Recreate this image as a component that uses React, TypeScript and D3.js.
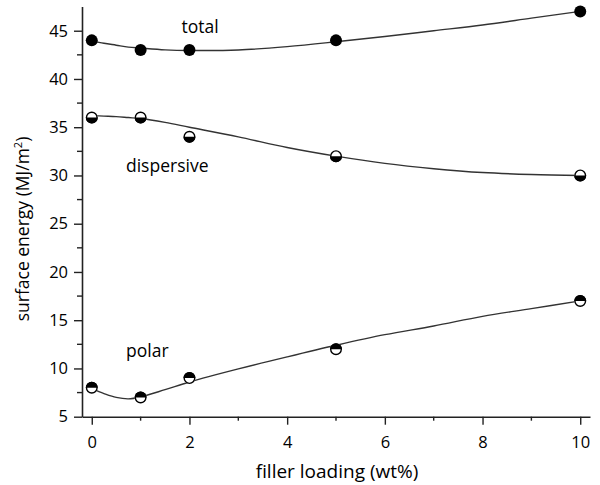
import { useRef, useEffect } from 'react';
import * as d3 from 'd3';

// measured points
const loading = [0, 1, 2, 5, 10];
const total = [44, 43, 43, 44, 47];
const dispersive = [36, 36, 34, 32, 30];
const polar = [8, 7, 9, 12, 17];

// smooth fit curves
const fitX = [0, 0.25, 0.5, 0.75, 1, 1.5, 2, 3, 4, 5, 6, 7, 8, 9, 10];
const totalFit = [43.95, 43.7, 43.5, 43.3, 43.2, 43.02, 42.95, 43.0, 43.35, 43.85, 44.4, 45.0, 45.6, 46.3, 47.0];
const dispersiveFit = [36.2, 36.15, 36.1, 36.0, 35.9, 35.5, 35.0, 34.0, 32.9, 32.0, 31.25, 30.7, 30.3, 30.1, 30.0];
const polarFit = [7.9, 7.4, 7.0, 6.85, 7.05, 7.8, 8.6, 9.95, 11.2, 12.4, 13.5, 14.4, 15.4, 16.2, 17.0];

const xMajor = [0, 2, 4, 6, 8, 10];
const xMinor = [1, 3, 5, 7, 9];
const yMajor = [5, 10, 15, 20, 25, 30, 35, 40, 45];
const yMinor = [7.5, 12.5, 17.5, 22.5, 27.5, 32.5, 37.5, 42.5];

const W = 600;
const H = 485;
const FONT = '"Open Sans", sans-serif';

export default function App() {
  const svgRef = useRef<SVGSVGElement>(null);

  useEffect(() => {
    const svg = d3.select(svgRef.current);
    svg.selectAll('*').remove();

    const x = d3.scaleLinear().domain([-0.2, 10.2]).range([82, 590]);
    const y = d3.scaleLinear().domain([5, 47.5]).range([416.7, 6.6]);
    const axisColor = '#222';

    // x axis
    const gx = svg.append('g').attr('transform', `translate(0,${y(5)})`);
    gx.call(d3.axisBottom(x).tickValues(xMajor).tickSize(8).tickSizeOuter(0).tickPadding(12));
    gx.selectAll('.minor')
      .data(xMinor)
      .enter()
      .append('line')
      .attr('class', 'minor')
      .attr('x1', (d) => x(d))
      .attr('x2', (d) => x(d))
      .attr('y1', 0)
      .attr('y2', 4);
    gx.selectAll('line').attr('stroke', axisColor).attr('stroke-width', 1.4);
    gx.select('.domain').attr('stroke', axisColor).attr('stroke-width', 1.6);
    gx.selectAll('text').attr('font-family', FONT).attr('font-size', 16.5).attr('font-weight', 500).attr('fill', '#000');

    // y axis
    const gy = svg.append('g').attr('transform', `translate(${x(-0.2)},0)`);
    gy.call(d3.axisLeft(y).tickValues(yMajor).tickSize(8).tickSizeOuter(0).tickPadding(6));
    gy.selectAll('.minor')
      .data(yMinor)
      .enter()
      .append('line')
      .attr('class', 'minor')
      .attr('x1', -5)
      .attr('x2', 0)
      .attr('y1', (d) => y(d))
      .attr('y2', (d) => y(d));
    gy.selectAll('line').attr('stroke', axisColor).attr('stroke-width', 1.4);
    gy.select('.domain').attr('stroke', axisColor).attr('stroke-width', 1.6);
    gy.selectAll('text').attr('font-family', FONT).attr('font-size', 16.5).attr('font-weight', 500).attr('fill', '#000');

    // axis titles
    svg.append('text')
      .attr('x', 337)
      .attr('y', 478)
      .attr('text-anchor', 'middle')
      .attr('font-family', FONT)
      .attr('font-size', 19)
      .attr('font-weight', 500)
      .attr('fill', '#000')
      .text('filler loading (wt%)');

    const yt = svg.append('text')
      .attr('transform', 'translate(29,229) rotate(-90)')
      .attr('text-anchor', 'middle')
      .attr('font-family', FONT)
      .attr('font-size', 17.5)
      .attr('font-weight', 500)
      .attr('fill', '#000');
    yt.append('tspan').text('surface energy (MJ/m');
    yt.append('tspan').attr('font-size', 11).attr('dy', -7).text('2');
    yt.append('tspan').attr('dy', 7).text(')');

    // fit curves
    const line = d3.line<number>()
      .x((_, i) => x(fitX[i]))
      .y((d) => y(d))
      .curve(d3.curveCatmullRom.alpha(0.5));
    [totalFit, dispersiveFit, polarFit].forEach((s) => {
      svg.append('path')
        .attr('d', line(s))
        .attr('fill', 'none')
        .attr('stroke', '#333')
        .attr('stroke-width', 1.4);
    });

    const r = 6;
    // total: solid markers
    svg.append('g')
      .selectAll('circle')
      .data(total)
      .join('circle')
      .attr('cx', (_, i) => x(loading[i]))
      .attr('cy', (d) => y(d))
      .attr('r', r)
      .attr('fill', '#000');

    const halfMarkers = (vals: number[], topBlack: boolean) => {
      const g = svg.append('g');
      const half = d3.arc<any>()
        .innerRadius(0)
        .outerRadius(r)
        .startAngle(topBlack ? -Math.PI / 2 : Math.PI / 2)
        .endAngle(topBlack ? Math.PI / 2 : (3 * Math.PI) / 2);
      const m = g.selectAll('g')
        .data(vals)
        .join('g')
        .attr('transform', (d, i) => `translate(${x(loading[i])},${y(d)})`);
      m.append('circle').attr('r', r).attr('fill', '#fff');
      m.append('path').attr('d', half({})).attr('fill', '#000');
      m.append('circle').attr('r', r - 0.7).attr('fill', 'none').attr('stroke', '#000').attr('stroke-width', 1.4);
    };
    halfMarkers(dispersive, false);
    halfMarkers(polar, true);

    // series labels
    const labels: [string, number, number, string][] = [
      ['total', 200, 33, 'middle'],
      ['dispersive', 126, 172, 'start'],
      ['polar', 126, 357, 'start'],
    ];
    svg.append('g')
      .selectAll('text')
      .data(labels)
      .join('text')
      .attr('x', (d) => d[1])
      .attr('y', (d) => d[2])
      .attr('text-anchor', (d) => d[3])
      .attr('font-family', FONT)
      .attr('font-size', 17.5)
      .attr('font-weight', 500)
      .attr('fill', '#000')
      .text((d) => d[0]);
  }, []);

  return (
    <div style={{ position: 'absolute', left: 0, top: 0 }}>
      <svg ref={svgRef} width={W} height={H} />
    </div>
  );
}
